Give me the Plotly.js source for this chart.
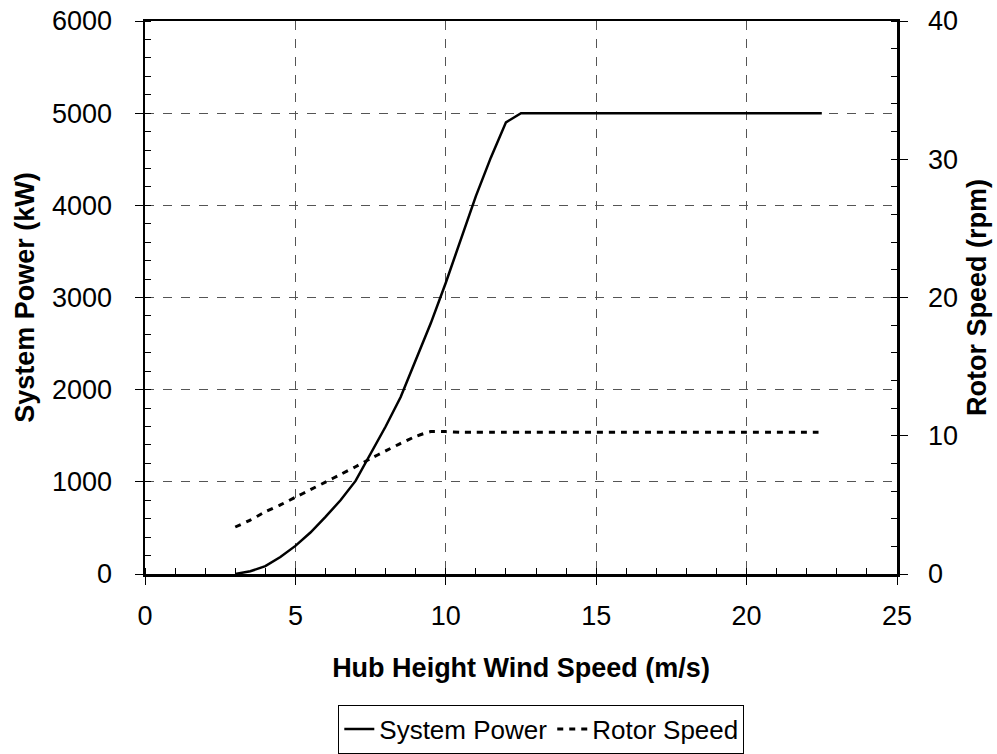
<!DOCTYPE html>
<html>
<head>
<meta charset="utf-8">
<script src="https://cdn.plot.ly/plotly-3.0.1.min.js"></script>
<style>html,body{margin:0;padding:0;background:#fff;}#chart{width:997px;height:754px;}</style>
</head>
<body>
<div id="chart"></div>
<script>
var windSpeed = [3, 3.5, 4, 4.5, 5, 5.5, 6, 6.5, 7, 7.5, 8, 8.5, 9, 9.5, 10, 10.5, 11, 11.5, 12, 12.5, 13, 14, 15, 16, 17, 18, 19, 20, 21, 22, 22.5];
var systemPower = [0, 30, 85, 185, 305, 450, 620, 800, 1010, 1300, 1600, 1920, 2310, 2720, 3160, 3630, 4100, 4520, 4900, 5000, 5000, 5000, 5000, 5000, 5000, 5000, 5000, 5000, 5000, 5000, 5000];
var rotorSpeed = [3.4, 3.9, 4.5, 5.0, 5.55, 6.1, 6.65, 7.2, 7.76, 8.35, 8.9, 9.45, 9.95, 10.3, 10.3, 10.25, 10.25, 10.25, 10.25, 10.25, 10.25, 10.25, 10.25, 10.25, 10.25, 10.25, 10.25, 10.25, 10.25, 10.25, 10.25];
var seriesNames = ["System Power", "Rotor Speed"];

var font = "Arial, 'Liberation Sans', sans-serif";
var traces = [
  {x: windSpeed, y: systemPower, name: seriesNames[0], type: 'scatter', mode: 'lines',
   line: {color: '#000', width: 2.5}, yaxis: 'y'},
  {x: windSpeed, y: rotorSpeed, name: seriesNames[1], type: 'scatter', mode: 'lines',
   line: {color: '#000', width: 3, dash: '6px,6px', shape: 'spline', smoothing: 0.6}, yaxis: 'y2'}
];
var layout = {
  width: 997, height: 754,
  margin: {l: 145, r: 100, t: 21, b: 180, autoexpand: false},
  paper_bgcolor: '#fff', plot_bgcolor: '#fff',
  font: {family: font, size: 27, color: '#000'},
  showlegend: true,
  legend: {orientation: 'h', x: 0.527, xanchor: 'center', y: -0.236, yanchor: 'top',
           bordercolor: '#000', borderwidth: 1, font: {size: 26, color: '#000'},
           tracegroupgap: 0},
  xaxis: {range: [0, 25], dtick: 5, tick0: 0, showline: true, linecolor: '#000', linewidth: 2.5,
          mirror: true, ticks: 'outside', ticklen: 8, tickwidth: 1, tickcolor: '#000',
          ticklabelstandoff: 8, automargin: false,
          minor: {dtick: 1, ticks: 'inside', ticklen: 6, tickwidth: 1, tickcolor: '#000', showgrid: false},
          showgrid: true, gridcolor: '#555', griddash: 'dash', gridwidth: 1, zeroline: false,
          title: {text: '<b>Hub Height Wind Speed (m/s)</b>', standoff: 28, font: {size: 27}}},
  yaxis: {range: [0, 6000], dtick: 1000, tick0: 0, showline: true, linecolor: '#000', linewidth: 2.5,
          ticks: 'outside', ticklen: 8, tickwidth: 1, tickcolor: '#000', ticklabelstandoff: 17, automargin: false,
          minor: {dtick: 200, ticks: 'inside', ticklen: 6, tickwidth: 1, tickcolor: '#000', showgrid: false},
          showgrid: true, gridcolor: '#555', griddash: 'dash', gridwidth: 1, zeroline: false,
          title: {text: '<b>System Power (kW)</b>', standoff: 10, font: {size: 27}}},
  yaxis2: {range: [0, 40], dtick: 10, tick0: 0, overlaying: 'y', side: 'right', showline: true,
           linecolor: '#000', linewidth: 2.5, ticks: 'outside', ticklen: 8, tickwidth: 1, tickcolor: '#000',
           tickprefix: '\u00a0\u00a0', automargin: false,
           minor: {dtick: 2, ticks: 'inside', ticklen: 6, tickwidth: 1, tickcolor: '#000', showgrid: false},
           showgrid: false, zeroline: false,
           title: {text: '<b>Rotor Speed (rpm)</b>', standoff: 10, font: {size: 27}}}
};
Plotly.newPlot('chart', traces, layout, {displayModeBar: false, staticPlot: true});
</script>
</body>
</html>
